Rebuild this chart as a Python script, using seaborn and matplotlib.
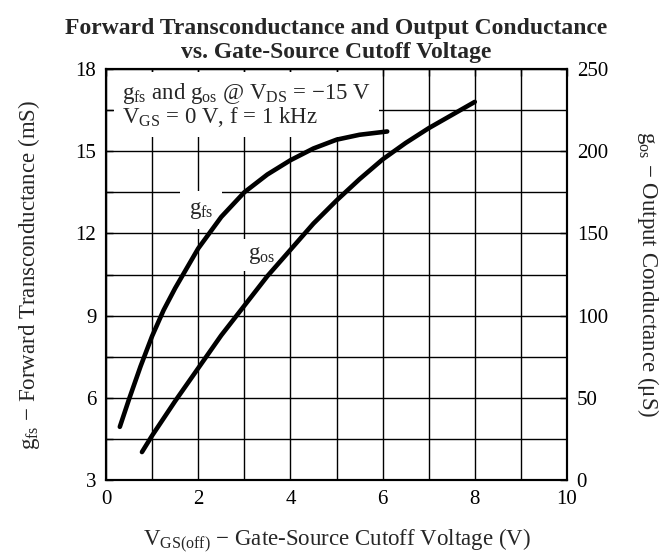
import numpy as np
import pandas as pd
import matplotlib
matplotlib.use('Agg')
import matplotlib.pyplot as plt
from matplotlib.ticker import MultipleLocator
import seaborn as sns

# --------------------- Data ---------------------
vgs_off_gfs = [0.3, 0.5, 0.75, 1.0, 1.25, 1.5, 2.0, 2.5, 3.0, 3.5, 4.0, 4.5, 5.0, 5.5, 6.1]
gfs_ms = [4.94, 5.95, 7.15, 8.25, 9.2, 10.0, 11.45, 12.6, 13.5, 14.15, 14.67, 15.1, 15.42, 15.6, 15.72]

vgs_off_gos = [0.78, 1.0, 1.5, 2.0, 2.5, 3.0, 3.5, 4.0, 4.5, 5.0, 5.5, 6.0, 6.5, 7.0, 7.5, 8.0]
gos_us = [17, 27, 48, 68, 88, 106, 124, 140, 156, 170, 183, 195, 205, 214, 222, 230]

x_ticks = [0, 2, 4, 6, 8, 10]
left_ticks = [3, 6, 9, 12, 15, 18]
right_ticks = [0, 50, 100, 150, 200, 250]

df_gfs = pd.DataFrame({'vgs': vgs_off_gfs, 'g': gfs_ms})
df_gos = pd.DataFrame({'vgs': vgs_off_gos, 'g': gos_us})

# --------------------- Style ---------------------
sns.set_style('white')
plt.rcParams['font.family'] = ['Liberation Serif', 'DejaVu Serif']
plt.rcParams['mathtext.fontset'] = 'custom'
plt.rcParams['mathtext.rm'] = 'Liberation Serif'
plt.rcParams['mathtext.it'] = 'Liberation Serif:italic'
plt.rcParams['mathtext.bf'] = 'Liberation Serif:bold'

fig = plt.figure(figsize=(6.63, 5.57), dpi=100)
ax = fig.add_axes([106 / 663, 1 - 480 / 557, 461 / 663, 411 / 557])
ax2 = ax.twinx()

# --------------------- Curves ---------------------
sns.lineplot(data=df_gfs, x='vgs', y='g', ax=ax, color='black', linewidth=3.3,
             solid_capstyle='round', solid_joinstyle='round', zorder=5)
sns.lineplot(data=df_gos, x='vgs', y='g', ax=ax2, color='black', linewidth=3.3,
             solid_capstyle='round', solid_joinstyle='round', zorder=5)

# --------------------- Axes ---------------------
ax.set_xlim(0, 10)
ax.set_ylim(3, 18)
ax2.set_ylim(0, 250)
ax.set_xticks(x_ticks)
ax.set_yticks(left_ticks)
ax2.set_yticks(right_ticks)
ax.xaxis.set_minor_locator(MultipleLocator(1))
ax.yaxis.set_minor_locator(MultipleLocator(1.5))

ax.grid(True, which='both', color='black', linewidth=1.0)
ax2.grid(False)
ax.set_axisbelow(True)

ax.tick_params(which='both', direction='in', top=True, length=5, width=1,
               labelsize=15, pad=7, colors='black')
ax2.tick_params(which='both', direction='in', length=5, width=1,
                labelsize=15, pad=7, colors='black')

for a in (ax, ax2):
    for s in a.spines.values():
        s.set_color('black')
        s.set_linewidth(1.5)

ax.set_xlabel(r'V$_{\mathrm{GS(off)}}$ $-$ Gate-Source Cutoff Voltage (V)', fontsize=16.5, labelpad=13)
ax.set_ylabel(r'g$_{\mathrm{fs}}$ $-$ Forward Transconductance (mS)', fontsize=16.5, labelpad=24)
ax2.set_ylabel(r'g$_{\mathrm{os}}$ $-$ Output Conductance (μS)', fontsize=16.5, rotation=270, labelpad=38)

ax.set_title('Forward Transconductance and Output Conductance\nvs. Gate-Source Cutoff Voltage',
             fontsize=17, fontweight='bold', pad=8, linespacing=1.2)

# --------------------- Annotations ---------------------
ax.text(0.35, 17.55,
        'g$_{\\mathrm{fs}}$ and g$_{\\mathrm{os}}$ @ V$_{\\mathrm{DS}}$ = $-$15 V\nV$_{\\mathrm{GS}}$ = 0 V, f = 1 kHz',
        fontsize=16.5, va='top', ha='left', linespacing=0.9, zorder=4,
        bbox=dict(facecolor='white', edgecolor='none', pad=6))
ax.text(2.06, 12.85, 'g$_{\\mathrm{fs}}$', fontsize=16.5, ha='center', va='center', zorder=4,
        bbox=dict(facecolor='white', edgecolor='none', pad=6))
ax.text(3.38, 11.2, 'g$_{\\mathrm{os}}$', fontsize=16.5, ha='center', va='center', zorder=4,
        bbox=dict(facecolor='white', edgecolor='none', pad=4))

plt.savefig('out.png', dpi=100)
